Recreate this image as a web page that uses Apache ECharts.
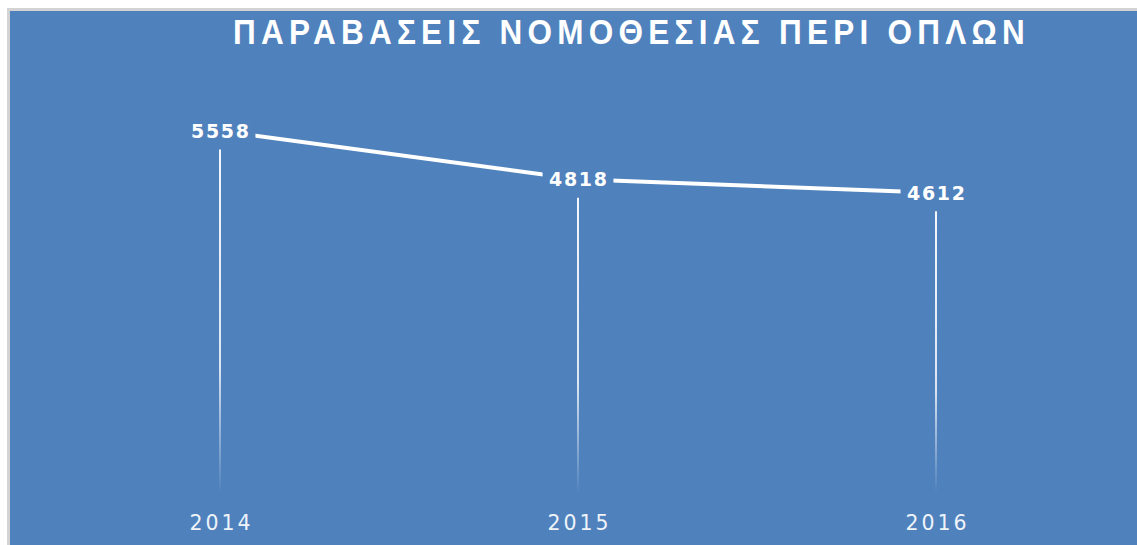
<!DOCTYPE html>
<html>
<head>
<meta charset="utf-8">
<script src="https://cdn.jsdelivr.net/npm/echarts@6/dist/echarts.min.js"></script>
<style>
  html, body { margin: 0; padding: 0; background: #ffffff; }
  #chart { width: 1137px; height: 545px; }
</style>
</head>
<body>
<div id="chart"></div>
<script>
// Firearms legislation offences per year
const titleText = 'ΠΑΡΑΒΑΣΕΙΣ ΝΟΜΟΘΕΣΙΑΣ ΠΕΡΙ ΟΠΛΩΝ';
const years = ['2014', '2015', '2016'];
const offences = [5558, 4818, 4612];
const valueMin = 0;
const valueMax = 6000;

const panelBlue = '#4F81BD';

const chart = echarts.init(document.getElementById('chart'), null, { renderer: 'svg' });

chart.setOption({
  animation: false,
  backgroundColor: '#ffffff',
  graphic: [{
    type: 'rect',
    z: -10,
    silent: true,
    shape: { x: 8.5, y: 9.5, width: 1140, height: 550 },
    style: { fill: panelBlue, stroke: '#d3d3d3', lineWidth: 3 }
  }],
  title: {
    text: titleText,
    left: 233,
    top: 14,
    padding: 0,
    textStyle: {
      color: '#ffffff',
      fontFamily: '"Liberation Sans", Arial, sans-serif',
      fontWeight: 'bold',
      fontSize: 35
    }
  },
  grid: { left: 41, right: 22, top: 102, bottom: 51 },
  xAxis: {
    type: 'category',
    data: years,
    boundaryGap: true,
    axisLine: { show: false },
    axisTick: { show: false },
    axisLabel: {
      color: '#eef3f9',
      fontFamily: '"DejaVu Sans", sans-serif',
      fontSize: 20.5,
      margin: 18
    }
  },
  yAxis: {
    type: 'value',
    min: valueMin,
    max: valueMax,
    show: false,
    splitLine: { show: false }
  },
  series: [
    {
      // drop lines from each point down to the axis, fading out near the bottom
      type: 'bar',
      data: offences,
      barWidth: 2,
      z: 1,
      silent: true,
      itemStyle: {
        color: {
          type: 'linear', x: 0, y: 0, x2: 0, y2: 1,
          colorStops: [
            { offset: 0, color: 'rgba(255,255,255,0.95)' },
            { offset: 0.65, color: 'rgba(255,255,255,0.8)' },
            { offset: 1, color: 'rgba(255,255,255,0)' }
          ]
        }
      }
    },
    {
      type: 'line',
      data: offences,
      z: 3,
      symbol: 'circle',
      symbolSize: 1,
      itemStyle: { color: '#ffffff' },
      lineStyle: { color: '#ffffff', width: 4 },
      label: {
        show: true,
        position: 'inside',
        color: '#ffffff',
        fontFamily: '"DejaVu Sans", sans-serif',
        fontWeight: 'bold',
        fontSize: 19,
        backgroundColor: panelBlue,
        padding: [11, 9, 7, 9]
      }
    }
  ]
});

// Tracking (and, for the title, a narrower cut) of the text labels
function spreadText() {
  const svg = document.querySelector('#chart svg');
  if (!svg) return;
  const valueTexts = offences.map(String);
  svg.querySelectorAll('text').forEach(function (t) {
    const s = t.textContent;
    let target = 0;
    let squeeze = 1;
    if (s === titleText) { target = 792; squeeze = 0.9; }
    else if (valueTexts.indexOf(s) >= 0) target = 58;
    else if (years.indexOf(s) >= 0) target = 61;
    if (!target) return;
    if (t.dataset.spread) return;
    t.dataset.spread = '1';
    t.style.letterSpacing = '0px';
    const w = t.getComputedTextLength();
    const ls = Math.max(0, (target / squeeze - w) / (s.length - 1));
    t.style.letterSpacing = ls.toFixed(2) + 'px';
    if (t.getAttribute('text-anchor') === 'middle') {
      t.setAttribute('dx', (ls / 2).toFixed(2));
    }
    if (squeeze !== 1) {
      const box = t.getBBox();
      const x0 = box.x;
      const prev = t.getAttribute('transform') || '';
      t.setAttribute('transform', prev + ' translate(' + x0 + ',0) scale(' + squeeze + ',1) translate(' + (-x0) + ',0)');
    }
  });
}
chart.on('finished', spreadText);
setTimeout(spreadText, 50);
setTimeout(spreadText, 300);
</script>
</body>
</html>
